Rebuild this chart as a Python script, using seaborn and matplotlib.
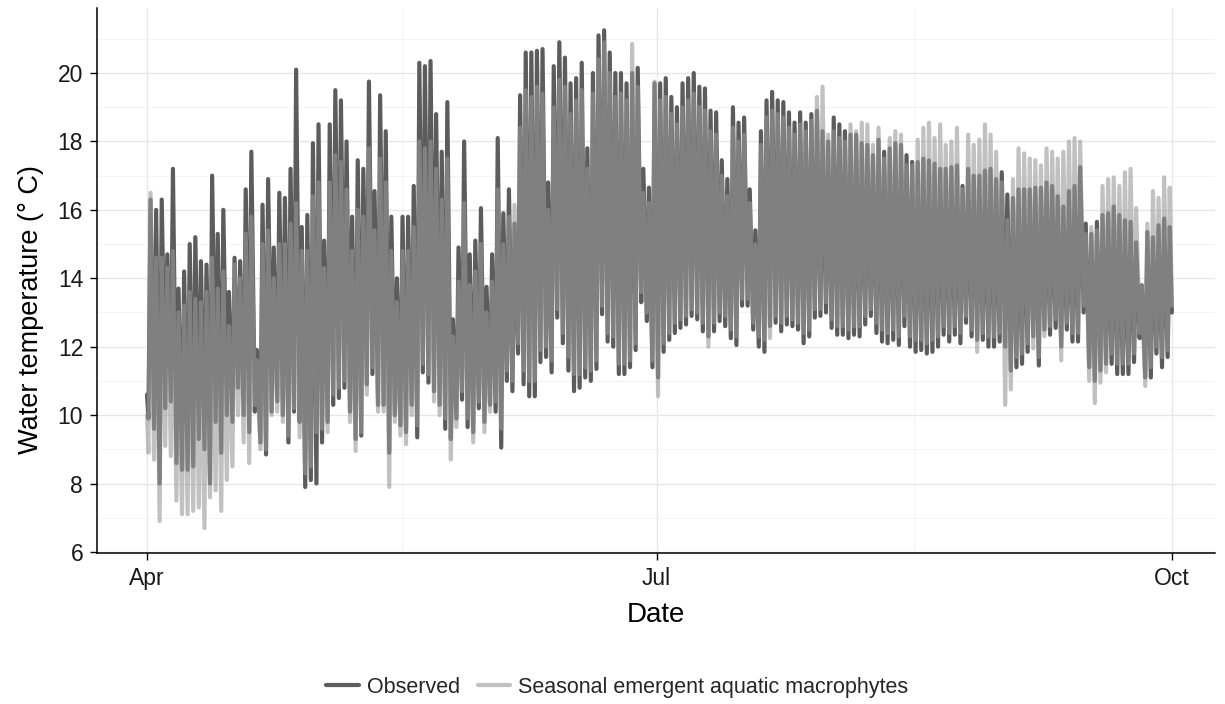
import numpy as np
import pandas as pd
import matplotlib
matplotlib.use("Agg")
import matplotlib.pyplot as plt
from matplotlib.lines import Line2D
from matplotlib.ticker import FixedLocator
import seaborn as sns

# daily extremes, one value per day from 1 April
obs_max = [
    16.3, 16.0, 16.3, 14.7, 17.2, 13.7, 14.2, 15.0, 15.2, 14.5,
    14.4, 17.0, 15.3, 16.0, 13.6, 14.6, 14.5, 16.6, 17.7, 11.9,
    16.15, 16.9, 14.9, 16.5, 16.35, 17.2, 20.1, 15.5, 15.85, 17.95,
    18.5, 15.1, 18.5, 19.5, 19.2, 18.0, 15.8, 17.45, 17.2, 19.75,
    16.55, 19.35, 18.3, 15.8, 14.0, 15.8, 15.8, 16.7, 20.3, 20.2,
    20.35, 18.8, 17.7, 19.15, 12.8, 14.9, 18.0, 14.7, 15.1, 16.05,
    13.75, 14.7, 18.1, 15.9, 16.6, 15.6, 19.35, 20.6, 20.6, 20.65,
    20.7, 16.8, 20.2, 20.9, 20.45, 19.7, 19.85, 20.3, 17.8, 20.0,
    21.1, 21.25, 20.6, 20.0, 20.0, 19.7, 20.0, 20.15, 17.2, 16.65,
    19.7, 19.7, 19.85, 19.3, 19.0, 19.7, 19.85, 20.0, 19.6, 19.55,
    18.9, 18.85, 17.45, 16.9, 19.0, 18.55, 18.7, 16.6, 15.4, 18.3,
    19.2, 19.45, 19.2, 19.15, 18.85, 18.55, 18.85, 18.55, 18.8, 18.9,
    18.3, 18.0, 18.7, 18.5, 18.3, 18.2, 18.2, 17.95, 17.9, 17.6,
    18.05, 17.7, 17.8, 17.95, 17.9, 17.6, 17.4, 17.4, 17.5, 17.45,
    17.35, 17.2, 17.2, 17.25, 17.3, 16.7, 17.2, 17.0, 17.0, 17.15,
    17.2, 16.9, 17.1, 16.45, 16.35, 16.6, 16.6, 16.6, 16.65, 16.65,
    16.8, 16.7, 16.4, 16.1, 16.55, 16.7, 17.25, 15.6, 15.3, 15.65,
    15.85, 15.9, 16.1, 15.85, 15.7, 15.65, 15.05, 13.8, 15.35, 15.2,
    15.55, 15.75, 15.5,
]
obs_min = [
    9.9, 9.6, 8.0, 10.2, 10.4, 8.6, 8.4, 8.4, 8.5, 9.3,
    9.0, 8.0, 9.8, 8.9, 10.0, 9.8, 10.8, 10.0, 9.5, 10.1,
    9.2, 8.85, 10.1, 10.4, 10.0, 9.2, 10.1, 9.8, 7.9, 8.1,
    8.0, 9.2, 9.8, 10.3, 10.5, 10.8, 10.1, 9.3, 9.4, 10.9,
    11.2, 10.3, 10.3, 8.9, 10.0, 9.7, 9.5, 10.3, 9.35, 11.25,
    10.95, 10.7, 10.3, 9.6, 9.3, 9.9, 10.45, 9.65, 9.5, 10.2,
    9.8, 10.3, 10.1, 9.05, 11.0, 10.7, 11.8, 10.9, 10.55, 10.55,
    11.55, 11.7, 11.25, 12.85, 12.1, 11.3, 10.7, 10.8, 11.1, 11.0,
    11.35, 12.95, 12.15, 12.0, 11.2, 11.2, 11.4, 11.9, 13.3, 12.75,
    11.4, 11.1, 11.85, 12.2, 12.4, 12.55, 12.65, 12.9, 12.8, 12.45,
    12.3, 12.45, 12.75, 12.6, 12.25, 12.05, 13.2, 13.2, 12.5, 12.0,
    11.85, 12.6, 12.7, 12.45, 12.65, 12.6, 12.5, 12.1, 12.3, 12.85,
    12.9, 13.0, 12.55, 12.35, 12.35, 12.25, 12.35, 12.3, 12.65, 12.9,
    12.4, 12.15, 12.1, 12.2, 12.05, 12.6, 12.0, 11.85, 11.9, 11.8,
    11.85, 12.0, 12.35, 12.15, 12.35, 12.1, 12.7, 12.3, 12.2, 12.2,
    12.0, 12.0, 12.15, 12.0, 11.3, 11.4, 11.5, 11.85, 12.3, 11.45,
    12.5, 12.35, 12.55, 12.0, 12.5, 12.15, 12.15, 13.0, 11.4, 11.0,
    11.3, 11.5, 11.5, 11.2, 11.2, 11.2, 11.55, 12.25, 11.1, 11.1,
    11.8, 11.4, 11.7,
]
sim_max = [
    16.5, 14.6, 14.6, 14.3, 14.8, 13.0, 13.2, 13.6, 13.4, 13.3,
    13.6, 14.6, 13.7, 14.2, 12.6, 14.4, 14.0, 15.3, 15.8, 11.6,
    15.0, 15.4, 14.0, 15.0, 15.0, 15.6, 16.2, 14.8, 14.8, 16.4,
    16.8, 14.3, 16.8, 17.6, 17.4, 16.6, 14.8, 16.0, 15.8, 17.8,
    15.4, 17.5, 16.8, 14.8, 13.3, 14.8, 14.8, 15.5, 18.0, 17.8,
    18.0, 17.2, 16.3, 17.5, 12.3, 13.9, 16.2, 13.8, 14.2, 15.0,
    13.0, 13.9, 16.6, 15.0, 15.8, 16.15, 18.4, 19.5, 19.3, 19.6,
    19.4, 16.0, 19.0, 19.8, 19.6, 18.8, 19.2, 19.5, 17.2, 19.4,
    20.4, 20.9, 20.0, 19.3, 19.4, 19.2, 20.85, 19.6, 16.5, 16.2,
    19.75, 19.2, 19.3, 18.8, 18.5, 19.0, 19.2, 19.4, 19.0, 18.9,
    18.3, 18.2, 17.0, 16.4, 18.4, 18.0, 18.2, 16.2, 15.0, 17.9,
    18.7, 18.9, 18.8, 18.7, 18.4, 18.2, 18.5, 18.3, 18.6, 19.3,
    19.6, 18.2, 18.3, 18.1, 18.0, 18.5, 18.3, 18.55, 18.5, 17.9,
    18.4, 17.5, 18.1, 18.3, 18.2, 17.3, 17.3, 18.05, 18.4, 18.55,
    18.1, 18.5, 17.9, 18.0, 18.4, 16.6, 18.2, 17.9, 18.05, 18.5,
    18.2, 17.7, 16.8, 15.7, 16.9, 17.8, 17.65, 17.5, 17.45, 17.3,
    17.8, 17.7, 17.5, 17.7, 18.0, 18.1, 18.0, 15.3, 15.5, 15.4,
    16.7, 16.9, 16.95, 16.7, 17.1, 17.2, 16.05, 13.8, 15.6, 16.55,
    16.35, 16.95, 16.65,
]
sim_min = [
    8.9, 8.7, 6.9, 9.1, 8.8, 7.5, 7.1, 7.1, 7.2, 7.3,
    6.7, 7.6, 7.8, 7.2, 8.1, 8.5, 10.0, 9.2, 8.6, 10.3,
    9.0, 9.0, 10.0, 10.1, 9.8, 9.4, 10.2, 9.35, 8.3, 8.5,
    9.5, 9.6, 9.5, 10.6, 10.8, 11.0, 9.8, 8.95, 9.5, 10.6,
    11.4, 10.1, 10.1, 7.9, 9.8, 9.4, 9.15, 10.0, 9.7, 11.5,
    11.2, 10.4, 10.0, 9.9, 8.7, 9.65, 10.7, 9.9, 9.2, 10.4,
    9.5, 10.1, 10.4, 9.6, 11.3, 11.0, 12.1, 11.3, 11.0, 11.0,
    11.9, 12.0, 11.6, 13.1, 12.4, 11.7, 11.2, 11.2, 11.4, 11.3,
    11.6, 13.2, 12.4, 12.3, 11.5, 11.5, 11.6, 12.1, 13.6, 13.0,
    11.6, 10.55, 12.1, 12.4, 12.7, 12.8, 12.9, 13.1, 13.0, 12.7,
    12.0, 12.7, 13.0, 12.9, 12.5, 12.3, 13.4, 13.4, 12.7, 12.3,
    12.2, 12.25, 12.9, 12.7, 12.9, 12.8, 12.7, 12.4, 12.5, 13.1,
    13.1, 13.3, 12.8, 12.6, 12.6, 12.5, 12.6, 12.6, 12.9, 13.1,
    12.7, 12.5, 12.4, 12.5, 12.3, 12.9, 12.3, 12.2, 12.2, 12.1,
    12.2, 12.3, 12.6, 12.4, 12.6, 12.4, 12.9, 12.5, 11.85, 12.4,
    12.3, 12.3, 12.4, 10.3, 10.75, 11.7, 11.8, 12.1, 11.95, 11.7,
    12.3, 12.6, 12.8, 11.6, 12.7, 12.4, 12.4, 13.2, 11.0, 10.35,
    10.95, 11.25, 11.8, 11.5, 11.5, 11.5, 11.8, 12.4, 10.85, 11.4,
    12.0, 11.7, 11.9,
]
# first and last hourly readings (1 Apr 00:00 and 1 Oct 00:00)
obs_ends = [10.6, 13.0]
sim_ends = [10.0, 13.2]

start_date = "2019-04-01"
tick_dates = ["2019-04-01", "2019-07-01", "2019-10-01"]
tick_labels = ["Apr", "Jul", "Oct"]
series_names = ["Observed", "Seasonal emergent aquatic macrophytes"]

# ── build the diurnal series: minimum early morning, maximum mid-afternoon ──
base = pd.Timestamp(start_date)
n = len(obs_max)
day_off = pd.to_timedelta(np.repeat(np.arange(n), 2), unit="D")
hour_off = pd.to_timedelta(np.tile([6, 15], n), unit="h")
times = base + day_off + hour_off
times = times.insert(0, base).append(pd.DatetimeIndex([base + pd.Timedelta(days=n)]))


def series(lo, hi, ends, name):
    vals = np.column_stack([lo, hi]).ravel()
    vals = np.concatenate([[ends[0]], vals, [ends[1]]])
    return pd.DataFrame({"Date": times, "temp": vals, "series": name})


df_obs = series(obs_min, obs_max, obs_ends, series_names[0])
df_sim = series(sim_min, sim_max, sim_ends, series_names[1])

OBS_COL = "#5c5c5c"
SIM_COL = "#999999"
SIM_ALPHA = 0.6
LW = 3.0

sns.set_theme(style="white")
plt.rcParams["font.family"] = ["Liberation Sans", "DejaVu Sans"]

fig = plt.figure(figsize=(12.25, 7.04), dpi=100)
ax = fig.add_axes([0.0792, 0.2145, 0.9126, 0.7741])

sns.lineplot(data=df_obs, x="Date", y="temp", ax=ax, color=OBS_COL,
             lw=LW, sort=False, estimator=None, legend=False)
sns.lineplot(data=df_sim, x="Date", y="temp", ax=ax, color=SIM_COL,
             alpha=SIM_ALPHA, lw=LW, sort=False, estimator=None, legend=False)

# axes limits, ticks and grid
ax.set_xlim(base - pd.Timedelta(days=8.93), base + pd.Timedelta(days=190.7))
ax.set_ylim(5.97, 21.9)
ax.set_yticks(range(6, 21, 2))
ax.yaxis.set_minor_locator(FixedLocator(range(7, 22, 2)))
ax.set_xticks(pd.to_datetime(tick_dates))
ax.set_xticklabels(tick_labels)
mids = pd.to_datetime(tick_dates)
ax.xaxis.set_minor_locator(FixedLocator(
    matplotlib.dates.date2num([mids[0] + (mids[1] - mids[0]) / 2,
                               mids[1] + (mids[2] - mids[1]) / 2])))
ax.set_axisbelow(True)
ax.grid(which="major", color="#e6e6e6", lw=0.9)
ax.grid(which="minor", color="#f2f2f2", lw=0.6)

for side in ["top", "right"]:
    ax.spines[side].set_visible(False)
for side in ["left", "bottom"]:
    ax.spines[side].set_color("black")
    ax.spines[side].set_linewidth(1.1)

ax.tick_params(which="major", direction="out", length=5, width=1,
               color="black", labelcolor="#1a1a1a", labelsize=16.5,
               left=True, bottom=True, pad=5)
ax.tick_params(which="minor", length=0)

ax.set_xlabel("Date", fontsize=20, color="black", labelpad=9)
ax.set_ylabel("Water temperature (° C)", fontsize=19.5, color="black")
ax.yaxis.set_label_coords(-0.047, 0.447)

handles = [Line2D([], [], color=OBS_COL, lw=3),
           Line2D([], [], color=SIM_COL, alpha=SIM_ALPHA, lw=3)]
fig.legend(handles, series_names, loc="center", bbox_to_anchor=(0.504, 0.024),
           ncol=2, frameon=False, fontsize=15.5, handlelength=1.5,
           handletextpad=0.4, columnspacing=0.8)

fig.savefig("out.png", dpi=100)
